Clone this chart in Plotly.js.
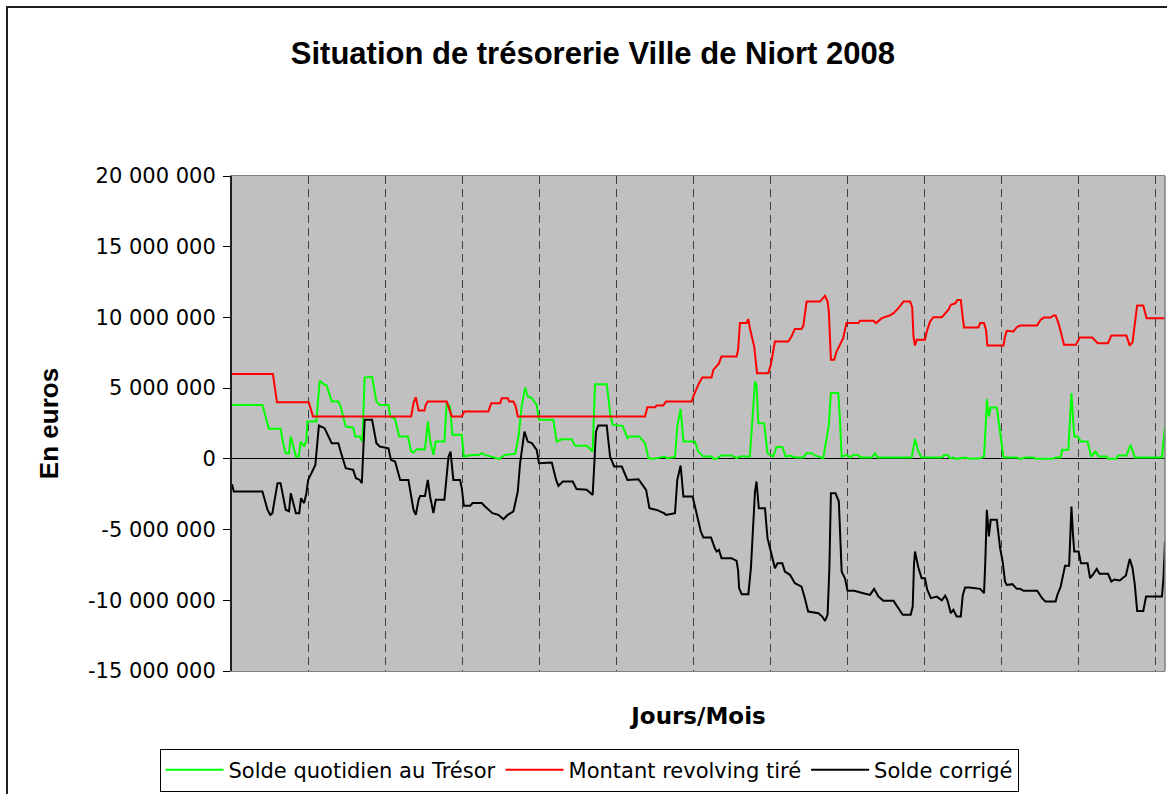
<!DOCTYPE html>
<html>
<head>
<meta charset="utf-8">
<script src="https://cdn.plot.ly/plotly-3.0.1.min.js"></script>
<style>
  html, body { margin: 0; padding: 0; background: #ffffff; }
  #chart { width: 1167px; height: 794px; }
</style>
</head>
<body>
<div id="chart"></div>
<script>
// ---- Data (values in millions of euros, x = day of year) ----
const UNIT = 1e6;

const seriesNames = ["Solde quotidien au Trésor", "Montant revolving tiré", "Solde corrigé"];

const greenDays = [0, 11.9, 14.4, 19, 20, 21, 22.3, 23, 25, 26.1, 26.9, 28.2, 29.1, 29.5, 33, 34.3, 36.2, 37, 39, 41.6, 42.5, 44.5, 47.4, 48.2, 50, 51, 51.9, 54.8, 56.5, 57.8, 61.2, 61.9, 63.8, 65.4, 68.8, 70.1, 71, 72.3, 75.5, 76, 76.6, 77.5, 78.8, 79.7, 83.1, 84, 85.3, 86.2, 89.9, 90.7, 93.8, 96.5, 97.7, 99, 101.6, 104.5, 106.8, 110.8, 112.1, 113.4, 114.7, 115.7, 117.3, 119.2, 120.1, 125.7, 127, 129, 132.9, 134.2, 138.8, 141.1, 142, 146.6, 147.2, 147.9, 148.9, 152.8, 154.7, 155.5, 159.4, 161.6, 162.9, 164.8, 169.4, 170, 173.3, 174.2, 175.5, 176.6, 181.1, 182.4, 184.4, 187.6, 188.3, 189.6, 191.3, 195.4, 197.4, 198.7, 202.6, 203.5, 204.6, 205.2, 205.9, 208.2, 208.9, 209.5, 211.7, 213, 215.3, 216.6, 218.3, 220.2, 223.5, 224.8, 226.7, 228, 231.3, 233.5, 234.3, 237.2, 237.8, 238.5, 240.4, 241.8, 243.1, 245, 245.7, 250.3, 251.6, 252.5, 265.9, 267.2, 268.5, 269.8, 277.7, 278.6, 279.9, 280.9, 282.2, 283.5, 286.8, 288.7, 292.7, 294.2, 295, 295.3, 296.1, 296.8, 299.2, 300.7, 301.8, 307, 308.3, 310.3, 313.6, 314.3, 320.9, 322.2, 324.2, 324.8, 327.2, 327.7, 328.4, 329.5, 330.8, 332.1, 334.7, 336.1, 337.8, 339.1, 342, 342.7, 346, 346.6, 349.9, 351.5, 353.2, 363.8, 364.4, 365];
const greenVals = [3.8, 3.8, 2.12, 2.12, 1.11, 0.4, 0.4, 1.58, 0.16, 0.16, 1.22, 0.87, 1.3, 2.64, 2.64, 5.52, 5.24, 5.2, 4.05, 4.05, 3.7, 2.29, 2.2, 1.58, 1.58, 1.22, 5.75, 5.8, 4.05, 3.8, 3.8, 3.0, 2.8, 1.58, 1.58, 0.52, 0.45, 0.68, 0.68, 1.47, 2.64, 1.3, 0.28, 1.22, 1.22, 3.94, 3.7, 1.7, 1.7, 0.16, 0.28, 0.28, 0.4, 0.28, 0.16, 0.0, 0.28, 0.35, 1.58, 3.82, 5.04, 4.41, 4.3, 3.82, 2.76, 2.76, 1.22, 1.38, 1.38, 0.92, 0.92, 0.52, 5.28, 5.28, 4.41, 3.23, 2.4, 2.33, 1.46, 1.58, 1.58, 1.11, 0.05, 0.0, 0.16, 0.05, 0.12, 2.29, 3.53, 1.22, 1.22, 0.52, 0.16, 0.16, 0.0, 0.0, 0.24, 0.24, 0.05, 0.16, 0.16, 2.4, 5.47, 5.23, 2.52, 2.52, 1.22, 0.4, 0.16, 0.83, 0.83, 0.16, 0.24, 0.1, 0.1, 0.4, 0.4, 0.24, 0.05, 2.4, 4.65, 4.65, 2.88, 0.16, 0.28, 0.1, 0.28, 0.28, 0.1, 0.1, 0.4, 0.1, 0.1, 1.41, 0.52, 0.1, 0.1, 0.28, 0.28, 0.05, 0.1, 0.0, 0.1, 0.0, 0.05, 0.16, 2.88, 4.22, 3.0, 3.63, 3.63, 1.58, 0.1, 0.1, 0.0, 0.1, 0.1, 0.0, 0.0, 0.1, 0.1, 0.64, 0.64, 2.4, 4.65, 1.58, 1.58, 1.22, 1.22, 0.16, 0.52, 0.16, 0.16, 0.0, 0.0, 0.24, 0.24, 0.99, 0.1, 0.1, 0.99, 2.29];

const redDays = [0, 16, 17.6, 30, 31.7, 70.1, 71, 71.9, 73, 75.3, 75.8, 76.6, 84, 86, 89.9, 90.9, 100.3, 101.4, 104.9, 105.5, 107.9, 108.4, 110.1, 111, 111.8, 161.6, 162.5, 165.5, 166.1, 168.7, 169.8, 179.8, 180.7, 182.7, 184, 187.6, 188.3, 189.6, 190.5, 191.5, 197.4, 198, 198.7, 201.3, 202, 202.6, 204.3, 205.4, 209.8, 210.8, 212.4, 217.6, 218.9, 220.2, 222.8, 223.5, 224.8, 230, 231.3, 232, 233, 233.5, 234.3, 235.6, 236.5, 237.8, 239.1, 240.4, 245.1, 245.7, 250.9, 252, 254.2, 256, 257.4, 258.8, 260.7, 262.7, 265.3, 266.1, 266.6, 267.2, 267.9, 271.1, 271.8, 273.1, 274.4, 277.7, 278.6, 280.3, 281.2, 283, 283.8, 285.1, 285.9, 286.4, 292, 292.7, 294.2, 295, 295.5, 301.8, 302.4, 303.1, 305.7, 307, 308.3, 315, 316.3, 317.6, 320.2, 321.5, 322.2, 323.3, 324.2, 325.5, 330.1, 331.7, 336.5, 338.7, 342.7, 344, 349.9, 350.6, 351.2, 352.3, 353.2, 354.1, 356.5, 357.8, 365];
const redVals = [6.0, 6.0, 4.0, 4.0, 3.0, 3.0, 3.94, 4.36, 3.42, 3.42, 3.82, 4.05, 4.05, 3.0, 3.0, 3.35, 3.35, 3.94, 3.94, 4.29, 4.29, 4.05, 4.05, 3.7, 3.0, 3.0, 3.65, 3.65, 3.77, 3.77, 4.05, 4.05, 4.53, 5.35, 5.75, 5.75, 6.29, 6.53, 6.75, 7.24, 7.24, 7.71, 9.6, 9.6, 9.88, 9.24, 7.94, 6.06, 6.06, 6.65, 8.3, 8.3, 8.65, 9.19, 9.19, 9.4, 11.12, 11.12, 11.36, 11.53, 11.12, 10.4, 7.0, 7.0, 7.59, 8.06, 8.53, 9.6, 9.6, 9.77, 9.77, 9.6, 9.95, 10.07, 10.14, 10.3, 10.66, 11.12, 11.12, 10.7, 8.65, 8.01, 8.42, 8.42, 9.0, 9.71, 10.02, 10.02, 10.2, 10.54, 10.9, 11.0, 11.24, 11.24, 9.95, 9.29, 9.29, 9.6, 9.6, 9.12, 8.01, 8.01, 8.65, 9.05, 9.0, 9.31, 9.43, 9.43, 9.83, 9.99, 9.99, 10.14, 10.14, 9.6, 9.0, 8.06, 8.06, 8.58, 8.58, 8.18, 8.18, 8.72, 8.72, 8.3, 8.01, 8.25, 9.48, 10.84, 10.84, 9.95, 9.95];

const blackDays = [0, 0.7, 11.9, 13.9, 15, 15.8, 17.8, 19, 21, 22.3, 23, 25, 26.3, 27, 28.2, 29.1, 29.8, 31.3, 32.6, 34, 36.2, 39, 41.6, 42.5, 44.5, 47.4, 48.5, 50, 50.8, 51.9, 54.8, 56.5, 57.8, 61.2, 62.2, 63.8, 64.9, 65.8, 69, 70.3, 71, 71.9, 73, 73.6, 75.5, 76.6, 77.5, 78.8, 79.7, 83.1, 84.7, 85.5, 86.6, 89.2, 89.9, 90.7, 93.2, 94.1, 97.7, 99, 101.9, 104.2, 106.2, 107.9, 110.1, 111.8, 112.7, 114.4, 115.7, 117.3, 119.2, 120.1, 125.1, 126.8, 127.7, 129.4, 133.3, 134.8, 138.8, 141.1, 142.4, 143.3, 146.6, 147.9, 149.5, 152.5, 154.7, 159, 162, 163.3, 166.1, 169, 169.8, 173.3, 174.2, 175.5, 176.6, 180.2, 181.5, 182.4, 183.4, 184.4, 187.4, 188.9, 189.6, 190.5, 191.5, 195.4, 197.4, 198, 198.4, 199.4, 202, 203, 203.9, 204.6, 205.2, 206.1, 208.5, 209.5, 210.8, 212.4, 213.4, 215.3, 216.3, 218.3, 220.2, 222.8, 224.1, 225.4, 229.4, 230.9, 232, 233, 233.7, 234.3, 236.1, 237.4, 238.5, 239.8, 240.8, 243.4, 247, 249.6, 251.2, 252.9, 254.8, 258.8, 260.7, 262.4, 265.5, 266.3, 266.8, 267.2, 268.5, 269.8, 271.1, 272, 273.4, 275.7, 277.7, 279, 279.9, 281.2, 282.2, 283.5, 285.1, 285.9, 286.8, 288.5, 292.7, 294.2, 294.7, 295.3, 296.1, 296.8, 299.2, 300.5, 301.5, 302.4, 303.1, 305.3, 307, 308.3, 309.7, 315, 316.9, 318.2, 322.2, 322.9, 324.2, 324.8, 325.9, 327.5, 328.4, 329, 329.5, 331.2, 332.1, 334.7, 335.7, 337, 338.3, 339.4, 342.7, 344, 345.3, 347.3, 349.7, 351.2, 352.3, 353.2, 354.1, 356.5, 357.6, 363.8, 364.4, 365];
const blackVals = [-1.8, -2.31, -2.31, -3.6, -3.96, -3.84, -1.72, -1.72, -3.6, -3.7, -2.43, -3.84, -3.84, -2.78, -3.13, -2.43, -1.49, -0.9, -0.43, 2.36, 2.17, 1.11, 1.11, 0.52, -0.66, -0.78, -1.37, -1.49, -1.72, 2.76, 2.76, 1.11, 0.87, 0.75, -0.07, -0.19, -0.9, -1.49, -1.49, -3.02, -3.6, -3.96, -2.9, -2.62, -2.62, -1.49, -2.66, -3.84, -2.9, -2.9, 0.16, 0.52, -1.49, -1.49, -2.07, -3.32, -3.32, -3.13, -3.13, -3.37, -3.84, -3.96, -4.27, -3.96, -3.72, -2.31, -0.31, 1.93, 1.22, 1.11, 0.64, -0.31, -0.26, -1.49, -1.91, -1.6, -1.6, -2.14, -2.19, -2.55, 1.93, 2.36, 2.36, 0.16, -0.54, -0.54, -1.49, -1.44, -2.19, -3.49, -3.61, -3.84, -3.96, -3.84, -1.49, -0.47, -2.66, -2.66, -3.6, -4.2, -5.14, -5.56, -5.56, -6.32, -6.55, -6.43, -7.02, -7.02, -7.21, -7.9, -9.15, -9.57, -9.57, -7.73, -4.2, -2.31, -1.6, -3.49, -3.49, -5.61, -6.55, -7.73, -7.38, -7.38, -7.97, -8.2, -8.79, -9.03, -9.85, -10.8, -10.91, -11.15, -11.46, -11.03, -7.73, -2.43, -2.43, -3.02, -7.97, -8.44, -9.33, -9.33, -9.5, -9.62, -9.19, -9.74, -10.04, -10.04, -10.56, -11.03, -11.03, -10.44, -7.5, -6.55, -7.68, -8.44, -8.44, -9.26, -9.85, -9.74, -10.0, -9.67, -10.0, -10.91, -10.68, -11.15, -11.15, -9.62, -9.1, -9.1, -9.19, -9.5, -7.26, -3.6, -5.49, -4.31, -4.31, -6.32, -7.26, -8.67, -8.91, -8.86, -9.19, -9.19, -9.33, -9.33, -9.85, -10.09, -10.09, -9.62, -9.03, -8.44, -7.55, -7.55, -3.37, -5.37, -6.55, -6.55, -7.38, -7.38, -8.44, -8.13, -7.78, -8.13, -8.13, -8.67, -8.53, -8.6, -8.25, -7.07, -7.73, -8.91, -10.75, -10.75, -9.74, -9.74, -8.44, -5.85];

const yTickVals = [-15, -10, -5, 0, 5, 10, 15, 20];
const yTickText = ["-15 000 000", "-10 000 000", "-5 000 000", "0", "5 000 000", "10 000 000", "15 000 000", "20 000 000"];

const chartTitle = "Situation de trésorerie Ville de Niort 2008";
const xTitle = "Jours/Mois";
const yTitle = "En euros";

// ---- Build ----
const toEuro = v => v * UNIT;

const traces = [
  { x: greenDays, y: greenVals.map(toEuro), name: seriesNames[0], type: 'scatter', mode: 'lines',
    line: { color: '#00FF00', width: 2 } },
  { x: redDays, y: redVals.map(toEuro), name: seriesNames[1], type: 'scatter', mode: 'lines',
    line: { color: '#FF0000', width: 2 } },
  { x: blackDays, y: blackVals.map(toEuro), name: seriesNames[2], type: 'scatter', mode: 'lines',
    line: { color: '#000000', width: 2 } }
];

const layout = {
  width: 1167, height: 794,
  paper_bgcolor: '#ffffff',
  plot_bgcolor: '#C0C0C0',
  margin: { l: 232, r: 2, t: 176, b: 123, autoexpand: false },
  showlegend: true,
  title: {
    text: chartTitle,
    font: { family: 'Liberation Sans, Arial, sans-serif', size: 31, color: '#000', weight: 'bold' },
    x: 0.508, xref: 'container', xanchor: 'center',
    y: 1 - 53 / 794, yref: 'container', yanchor: 'middle'
  },
  xaxis: {
    range: [0, 365],
    tick0: 0, dtick: 30.1,
    showgrid: true, gridcolor: '#404040', gridwidth: 1, griddash: '8px,5px',
    showticklabels: false, ticks: '',
    zeroline: false,
    showline: true, linecolor: '#808080', linewidth: 1, mirror: true,
    fixedrange: true,
    title: { text: xTitle, standoff: 36,
      font: { family: 'DejaVu Sans, sans-serif', size: 23, color: '#000', weight: 'bold' } }
  },
  yaxis: {
    range: [-15 * UNIT, 20 * UNIT],
    tickvals: yTickVals.map(toEuro),
    ticktext: yTickText,
    ticks: 'outside', ticklen: 7, tickwidth: 1, tickcolor: '#000',
    ticklabelstandoff: 3,
    tickfont: { family: 'DejaVu Sans, sans-serif', size: 21, color: '#000' },
    showgrid: false,
    zeroline: true, zerolinecolor: '#000000', zerolinewidth: 1,
    showline: true, linecolor: '#202020', linewidth: 2,
    automargin: false,
    fixedrange: true,
    title: { text: yTitle, standoff: 22,
      font: { family: 'Liberation Sans, Arial, sans-serif', size: 26, color: '#000', weight: 'bold' } }
  },
  legend: {
    orientation: 'h',
    x: (589 - 232) / 933, xanchor: 'center',
    y: (671 - 770) / 495, yanchor: 'middle',
    bgcolor: '#ffffff', bordercolor: '#000000', borderwidth: 1,
    font: { family: 'DejaVu Sans, sans-serif', size: 21, color: '#000' },
    itemwidth: 58,
    tracegroupgap: 0,
    traceorder: 'normal'
  },
  shapes: [
    { type: 'rect', xref: 'paper', yref: 'paper', x0: 1, x1: 1, y0: 0, y1: 1,
      line: { color: '#808080', width: 1 } },
    { type: 'rect', xref: 'paper', yref: 'paper',
      x0: (7 - 232) / 933, x1: 1.02, y0: -0.27, y1: (671 - 7) / 495,
      line: { color: '#202020', width: 2 }, fillcolor: 'rgba(0,0,0,0)' }
  ]
};

Plotly.newPlot('chart', traces, layout, { displayModeBar: false, staticPlot: true });
</script>
</body>
</html>
